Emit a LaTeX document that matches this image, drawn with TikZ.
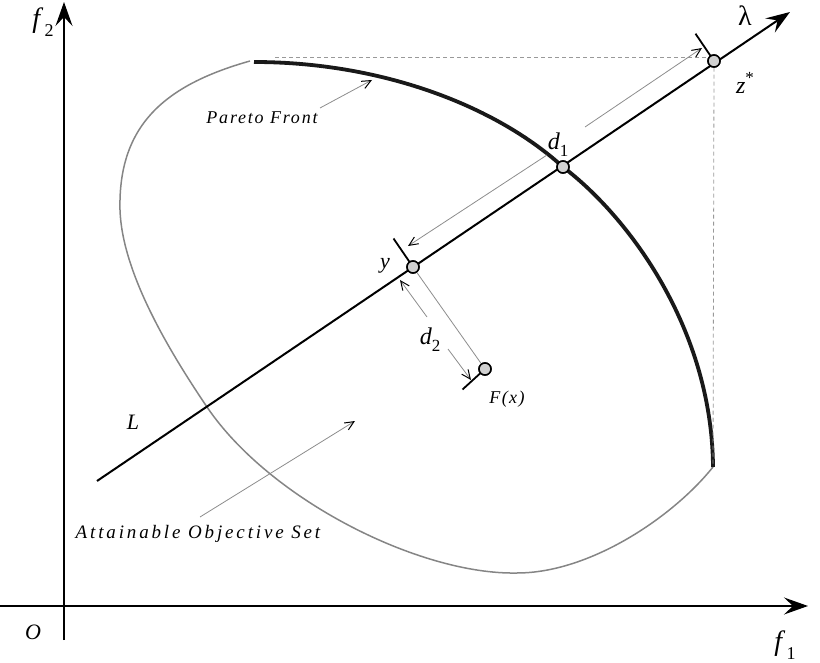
\documentclass[tikz,border=0pt]{standalone}
\usepackage{fontspec}
\setmainfont{LiberationSerif}[Extension=.ttf,UprightFont=*-Regular,ItalicFont=*-Italic,BoldFont=*-Bold,BoldItalicFont=*-BoldItalic]
\usetikzlibrary{arrows.meta}
\newcommand\lowidx[2]{\raisebox{-0.3em}{\fontsize{#1}{#1}\selectfont\upshape #2}}
\begin{document}
\begin{tikzpicture}[x=1pt,y=-1pt,
  axisline/.style={line width=1.8pt,-{Stealth[length=24pt,width=17pt,inset=9pt]}},
  lamline/.style={line width=2pt,-{Stealth[length=24pt,width=17pt,inset=9pt]}},
  setline/.style={line width=1.5pt,draw=black!48},
  frontline/.style={line width=3.8pt,draw=black!90},
  guide/.style={line width=0.8pt,draw=black!40,dash pattern=on 4pt off 3pt},
  thinarrow/.style={line width=0.8pt,draw=black!45,-{Straight Barb[length=9pt,width=8pt,line width=1pt,color=black]}},
  thinline/.style={line width=0.8pt,draw=black!45},
  ticker/.style={line width=1.8pt,draw=black},
  pt/.style={circle,draw=black,line width=1.5pt,fill=black!18,minimum size=12pt,inner sep=0pt},
  lab/.style={font=\fontsize{22}{26}\selectfont\itshape,inner sep=0pt},
  note/.style={inner sep=0pt}]
\useasboundingbox (0,0) rectangle (820,663);
% attainable set boundary
\draw[setline] (250,61) .. controls (165,85) and (118,125) .. (120,210)
  .. controls (122,270) and (165,345) .. (207,407)
  .. controls (270,500) and (420,575) .. (517,573)
  .. controls (590,573) and (673,517) .. (713,467);
% Pareto front
\draw[frontline] (254,62) .. controls (380,62) and (495,105) .. (563,167)
  .. controls (630,218) and (712,330) .. (713,467);
\coordinate (pfend) at (713,465);
% axes
\coordinate (yb) at (64,640);
\coordinate (yt) at (64,2);
\coordinate (xl) at (0,606);
\coordinate (xr) at (808,606);
\draw[axisline] (yb) -- (yt);
\draw[axisline] (xl) -- (xr);
% points
\node[pt] (zs) at (714,61) {};
\node[pt] (dp) at (563,167) {};
\node[pt] (yp) at (413,267) {};
\node[pt] (Fx) at (485,369) {};
% guide lines
\coordinate (gh) at (275,57);
\draw[guide] (gh) -- (gh -| zs);
\draw[guide] (zs.south) -- (pfend);
% lambda line
\coordinate (Ls) at (97,481);
\coordinate (Le) at (790,12);
\draw[lamline] (Ls) -- (Le);
% y to F(x)
\draw[thinline] (yp) -- (Fx);
% ticks
\draw[ticker] (zs.center) -- ++(-18.5,-27.3);
\draw[ticker] (yp.center) -- ++(-19.5,-28.5);
\draw[ticker] (Fx.center) -- ++(-22.5,20.5);
\node[pt] at (zs) {};
\node[pt] at (yp) {};
\node[pt] at (Fx) {};
\node[pt] at (dp) {};
% d1 arrows
\coordinate (d1a) at (547,155);
\coordinate (d1b) at (408,246);
\coordinate (d1c) at (585,127);
\coordinate (d1d) at (702,48);
\draw[thinarrow] (d1a) -- (d1b);
\draw[thinarrow] (d1c) -- (d1d);
% d2 arrows
\coordinate (d2a) at (427,317);
\coordinate (d2b) at (400,280);
\coordinate (d2c) at (448,349);
\coordinate (d2d) at (471,380);
\draw[thinarrow] (d2a) -- (d2b);
\draw[thinarrow] (d2c) -- (d2d);
% labels
\node[lab,font=\fontsize{28}{30}\selectfont\itshape] (f2) at (43,22) {f\,\lowidx{18}{2}};
\node[lab,font=\fontsize{28}{30}\selectfont\itshape] (f1) at (785,645) {f\,\lowidx{18}{1}};
\node[lab] (O) at (33,632) {O};
\node[lab] (Llab) at (133,422) {L};
\node[lab,font=\fontsize{28}{30}\selectfont] (lam) at (745,16) {λ};
\node[lab,font=\fontsize{24}{28}\selectfont\itshape] (zlab) at (745,83) {z\raisebox{0.4em}{\fontsize{17}{17}\selectfont\upshape *}};
\node[lab] (ylab) at (385,266) {y};
\node[lab,font=\fontsize{24}{28}\selectfont\itshape] (d1lab) at (558,145) {d\lowidx{17}{1}};
\node[lab,font=\fontsize{24}{28}\selectfont\itshape] (d2lab) at (430,340) {d\lowidx{17}{2}};
\node[note,font=\fontsize{18}{20}\selectfont\itshape\addfontfeature{LetterSpace=8}] (Fxlab) at (507,399) {F(x)};
\node[note,font=\fontsize{18}{20}\selectfont\itshape\addfontfeature{LetterSpace=10}] (pflab) at (262,118) {Pareto Front};
\node[note,font=\fontsize{19}{22}\selectfont\itshape\addfontfeature{LetterSpace=15}] (aoslab) at (198,534) {Attainable Objective Set};
% label arrows
\coordinate (pfa) at (320,108);
\coordinate (pfb) at (372,80);
\draw[thinarrow] (pfa) -- (pfb);
\coordinate (aoa) at (200,517);
\coordinate (aob) at (355,421);
\draw[thinarrow] (aoa) -- (aob);
\end{tikzpicture}
\end{document}
